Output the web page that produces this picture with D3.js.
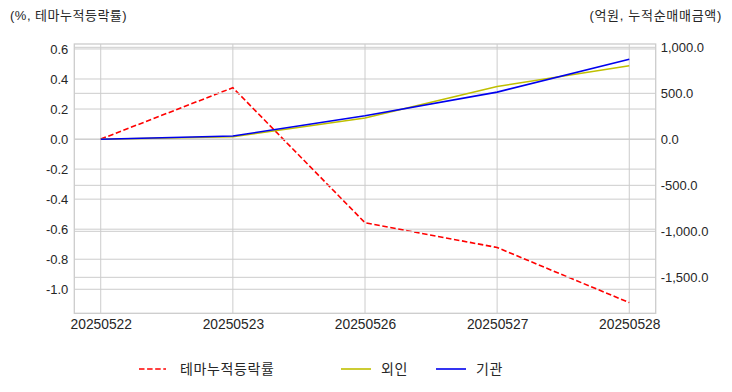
<!DOCTYPE html>
<html><head><meta charset="utf-8">
<script src="https://cdn.jsdelivr.net/npm/d3@7"></script>
<style>
body{margin:0;background:#fff;}
text{font-family:"Liberation Sans","Noto Sans CJK KR",sans-serif;}
</style></head>
<body><svg id="c" width="732" height="392"></svg>
<script>
const dates = ["20250522","20250523","20250526","20250527","20250528"];
const themeRate = [0.0, 0.342, -0.557, -0.722, -1.089];
const foreign = [0, 28, 231, 574, 800];
const inst = [0, 36, 256, 513, 870];
const leftTicks = [0.6,0.4,0.2,0.0,-0.2,-0.4,-0.6,-0.8,-1.0];
const rightTicks = [1000,500,0,-500,-1000,-1500];
const seriesNames = ["테마누적등락률","외인","기관"];
const leftTitle = "(%, 테마누적등락률)";
const rightTitle = "(억원, 누적순매매금액)";

const svg = d3.select("#c");
const L=74.3, R=655.7, T=44, B=313.3;
const loc = d3.formatLocale({decimal:".",thousands:",",grouping:[3],currency:["",""],minus:"-"});
const fL = loc.format(".1f"), fR = loc.format(",.1f");

// point scale with outer padding (matplotlib 5% margins)
const x = d3.scalePoint().domain(dates).range([L,R]).padding(0.2);
const yL = d3.scaleLinear().domain([-1.160,0.633]).range([B,T]);
const yR = d3.scaleLinear().domain([-1891,1036]).range([B,T]);

const grid = "#cccccc";
const g = svg.append("g");
g.selectAll(".gl").data(leftTicks).enter().append("line")
 .attr("x1",L).attr("x2",R).attr("y1",d=>yL(d)).attr("y2",d=>yL(d))
 .attr("stroke",grid).attr("stroke-width",1);
g.selectAll(".gx").data(dates).enter().append("line")
 .attr("x1",d=>x(d)).attr("x2",d=>x(d)).attr("y1",T).attr("y2",B)
 .attr("stroke",grid).attr("stroke-width",1);

const line = (ys, yscale)=> d3.line().x((d,i)=>x(dates[i])).y(d=>yscale(d))(ys);
svg.append("path").attr("d",line(themeRate,yL)).attr("fill","none")
 .attr("stroke","#ff0000").attr("stroke-width",1.6).attr("stroke-dasharray","5.5,2.6");

svg.selectAll(".gr").data(rightTicks).enter().append("line")
 .attr("x1",L).attr("x2",R).attr("y1",d=>yR(d)).attr("y2",d=>yR(d))
 .attr("stroke",grid).attr("stroke-width",1);

svg.append("path").attr("d",line(foreign,yR)).attr("fill","none")
 .attr("stroke","#bfbf00").attr("stroke-width",1.6);
svg.append("path").attr("d",line(inst,yR)).attr("fill","none")
 .attr("stroke","#0000ee").attr("stroke-width",1.6);

svg.append("rect").attr("x",L).attr("y",T).attr("width",R-L).attr("height",B-T)
 .attr("fill","none").attr("stroke",grid).attr("stroke-width",1.3);

const tc="#262626";
const ax = d3.axisLeft(yL).tickValues(leftTicks).tickFormat(fL).tickSize(0).tickPadding(6);
const gl = svg.append("g").attr("transform",`translate(${L},0)`).call(ax);
gl.select(".domain").remove();
gl.selectAll("text").attr("font-size",13).attr("fill",tc);
const ar = d3.axisRight(yR).tickValues(rightTicks).tickFormat(fR).tickSize(0).tickPadding(5);
const gr = svg.append("g").attr("transform",`translate(${R},0)`).call(ar);
gr.select(".domain").remove();
gr.selectAll("text").attr("font-size",13).attr("fill",tc);
const axb = d3.axisBottom(x).tickSize(0).tickPadding(6);
const gb = svg.append("g").attr("transform",`translate(0,${B})`).call(axb);
gb.select(".domain").remove();
gb.selectAll("text").attr("font-size",13.8).attr("fill",tc);

svg.append("text").attr("x",10).attr("y",20).attr("font-size",13).attr("letter-spacing","0.5px").attr("fill",tc).text(leftTitle);
svg.append("text").attr("x",722).attr("y",20).attr("text-anchor","end").attr("font-size",13).attr("letter-spacing","0.7px").attr("fill",tc).text(rightTitle);

const leg = [
 {name:seriesNames[0], color:"#ff0000", dash:"5.5,2.6", x1:139, x2:166, tx:180},
 {name:seriesNames[1], color:"#bfbf00", dash:null, x1:341, x2:371, tx:381},
 {name:seriesNames[2], color:"#0000ee", dash:null, x1:436, x2:466, tx:476}
];
const ly=369;
leg.forEach(d=>{
  svg.append("line").attr("x1",d.x1).attr("x2",d.x2).attr("y1",ly).attr("y2",ly)
   .attr("stroke",d.color).attr("stroke-width",1.6).attr("stroke-dasharray",d.dash);
  svg.append("text").attr("x",d.tx).attr("y",ly).attr("dy","0.35em").attr("font-size",14)
   .attr("letter-spacing","0.6px").attr("fill",tc).text(d.name);
});
</script></body></html>
